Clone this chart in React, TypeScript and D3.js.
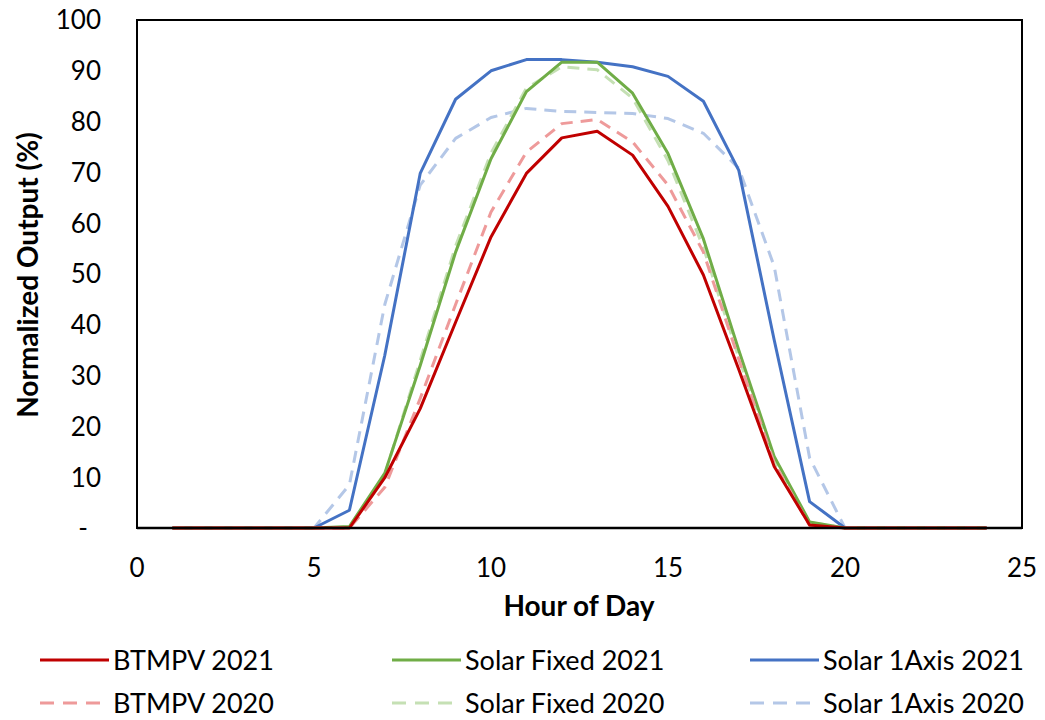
import React from "react";
import * as d3 from "d3";

const hours = [1, 2, 3, 4, 5, 6, 7, 8, 9, 10, 11, 12, 13, 14, 15, 16, 17, 18, 19, 20, 21, 22, 23, 24];

const btmpv2021 = [0, 0, 0, 0, 0, 0, 9.9, 23.5, 40.5, 57.3, 69.8, 76.8, 78.1, 73.4, 63.3, 49.8, 31.2, 12.1, 0.6, 0, 0, 0, 0, 0];
const fixed2021 = [0, 0, 0, 0, 0, 0.3, 10.8, 32, 54.3, 72.7, 85.9, 91.7, 91.7, 85.6, 73.7, 56.9, 35, 14.1, 1.2, 0, 0, 0, 0, 0];
const axis2021 = [0, 0, 0, 0, 0, 3.5, 34, 69.8, 84.4, 90, 92.2, 92.2, 91.7, 90.8, 88.9, 84, 70.4, 37, 5.2, 0, 0, 0, 0, 0];
const btmpv2020 = [0, 0, 0, 0, 0, 0, 8, 25.5, 44, 62.2, 74, 79.6, 80.4, 76, 67.5, 54.3, 33.2, 12.8, 0.5, 0, 0, 0, 0, 0];
const fixed2020 = [0, 0, 0, 0, 0, 0.2, 10.5, 33, 55.5, 73.8, 86.6, 90.8, 90.2, 84.6, 72.3, 55.2, 33.5, 13.2, 1.1, 0, 0, 0, 0, 0];
const axis2020 = [0, 0, 0, 0, 0, 8.5, 44, 67.5, 76.7, 80.8, 82.6, 82, 81.8, 81.6, 80.6, 77.7, 70.8, 51.5, 13.8, 0, 0, 0, 0, 0];

const xTicks = [0, 5, 10, 15, 20, 25];
const yTicks = [0, 10, 20, 30, 40, 50, 60, 70, 80, 90, 100];

const series = [
  { name: "BTMPV 2021", values: btmpv2021, color: "#C00000", dash: null },
  { name: "Solar Fixed 2021", values: fixed2021, color: "#70AD47", dash: null },
  { name: "Solar 1Axis 2021", values: axis2021, color: "#4472C4", dash: null },
  { name: "BTMPV 2020", values: btmpv2020, color: "#EE9A9A", dash: "12,8" },
  { name: "Solar Fixed 2020", values: fixed2020, color: "#C5E0B4", dash: "12,8" },
  { name: "Solar 1Axis 2020", values: axis2020, color: "#B4C7E7", dash: "12,8" },
];

const drawOrder = [5, 2, 4, 1, 3, 0];

const FONT = "Lato, 'Open Sans', sans-serif";

export default function App() {
  const W = 1045, H = 720;
  const left = 137, right = 1022, top = 20, bottom = 528;
  const x = d3.scaleLinear().domain([0, 25]).range([left, right]);
  const y = d3.scaleLinear().domain([0, 100]).range([bottom, top]);
  const line = d3.line<number>().x((_, i) => x(hours[i])).y((d) => y(d));

  const legendCols = [40, 392, 750];
  const legendRows = [660, 703];

  return (
    <svg width={W} height={H} style={{ position: "absolute", left: 0, top: 0, background: "#fff" }} fontFamily={FONT}>
      <rect x={0} y={0} width={W} height={H} fill="#fff" />
      {drawOrder.map((si) => {
        const s = series[si];
        return (
          <path key={s.name} d={line(s.values) || ""} fill="none" stroke={s.color} strokeWidth={3}
            strokeDasharray={s.dash || undefined} strokeLinejoin="round" />
        );
      })}
      <rect x={left} y={top} width={right - left} height={bottom - top} fill="none" stroke="#000" strokeWidth={2} />
      <line x1={left} x2={right} y1={bottom} y2={bottom} stroke="#000" strokeWidth={2.5} />
      {yTicks.map((t) => (
        <text key={t} x={t === 0 ? 88 : 101} y={y(t)} dy="0.36em" textAnchor="end" fontSize={26} fill="#000">
          {t === 0 ? "-" : t}
        </text>
      ))}
      {xTicks.map((t) => (
        <text key={t} x={x(t)} y={568} dy="0.36em" textAnchor="middle" fontSize={26} fill="#000">
          {t}
        </text>
      ))}
      <text x={579} y={606} dy="0.36em" textAnchor="middle" fontSize={28} fontWeight="bold" fill="#000">
        Hour of Day
      </text>
      <text transform={`translate(28,275) rotate(-90)`} dy="0.36em" textAnchor="middle" fontSize={28} fontWeight="bold" fill="#000">
        Normalized Output (%)
      </text>
      {series.map((s, i) => {
        const cx = legendCols[i % 3];
        const cy = legendRows[Math.floor(i / 3)];
        return (
          <g key={s.name}>
            <line x1={cx} x2={cx + 69} y1={cy} y2={cy} stroke={s.color} strokeWidth={3}
              strokeDasharray={s.dash ? "14,9" : undefined} />
            <text x={cx + 73} y={cy} dy="0.36em" fontSize={27} fill="#000">{s.name}</text>
          </g>
        );
      })}
    </svg>
  );
}
